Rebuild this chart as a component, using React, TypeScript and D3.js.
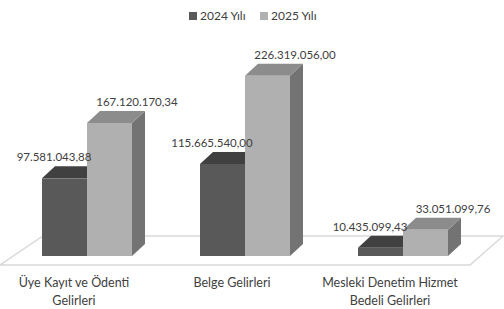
import React from "react";
import * as d3 from "d3";

const categories = [
  ["Üye Kayıt ve Ödenti", "Gelirleri"],
  ["Belge Gelirleri"],
  ["Mesleki Denetim Hizmet", "Bedeli Gelirleri"],
];
const seriesNames = ["2024 Yılı", "2025 Yılı"];
const values2024 = [97581043.88, 115665540.0, 10435099.43];
const values2025 = [167120170.34, 226319056.0, 33051099.76];
const seriesValues = [values2024, values2025];

const W = 504;
const H = 309;
const FONT = "Lato, 'Open Sans', sans-serif";

// front / top / side shades per series
const shades = [
  { front: "#595959", top: "#404040", side: "#3d3d3d", legend: "#595959" },
  { front: "#b0b0b0", top: "#8c8c8c", side: "#737373", legend: "#b0b0b0" },
];

const fmt = (v: number) => {
  const [i, d] = v.toFixed(2).split(".");
  return i.replace(/\B(?=(\d{3})+(?!\d))/g, ".") + "," + d;
};

export default function App() {
  const keys = categories.map((c) => c.join(" "));
  const x0 = d3.scaleBand<string>().domain(keys).range([8, 482]);
  const groupW = 90;
  const x1 = d3.scaleBand<string>().domain(seriesNames).range([0, groupW]);
  const y = d3.scaleLinear().domain([0, 250e6]).range([256, 57]);

  const ddx = 13; // bar depth
  const ddy = -12;
  const floorFront = 265;
  const floorBack = 236;

  const floor = [
    [0, floorFront],
    [43, floorBack],
    [W - 1, floorBack],
    [470, floorFront],
  ];

  const bars = seriesNames.flatMap((s, si) =>
    keys.map((k, ci) => {
      const v = seriesValues[si][ci];
      const bx = (x0(k) ?? 0) + (x0.bandwidth() - groupW) / 2 + (x1(s) ?? 0);
      return { si, ci, v, bx, bw: x1.bandwidth(), top: y(v), base: y(0) };
    })
  );

  const labelDx = [12, 50];
  // category labels sit on the projected front edge, a bit left of the bars
  const catX = (i: number) => (x0(keys[i]) ?? 0) + x0.bandwidth() / 2 - 13;

  return (
    <svg width={W} height={H} style={{ position: "absolute", left: 0, top: 0 }}>
      <rect width={W} height={H} fill="#fff" />
      {/* legend */}
      <g fontFamily={FONT} fontSize={12} fill="#404040">
        {seriesNames.map((s, i) => (
          <g key={s} transform={`translate(${189 + i * 71},0)`}>
            <rect x={0} y={12} width={8} height={8} fill={shades[i].legend} />
            <text x={11} y={20}>{s}</text>
          </g>
        ))}
      </g>
      {/* floor */}
      <polygon
        points={floor.map((p) => p.join(",")).join(" ")}
        fill="#fff"
        stroke="#d9d9d9"
        strokeWidth={1.5}
      />
      {/* bars */}
      {bars.map((b) => {
        const { bx, bw, top, base } = b;
        const c = shades[b.si];
        return (
          <g key={`${b.si}-${b.ci}`}>
            <polygon
              points={`${bx + bw},${top} ${bx + bw + ddx},${top + ddy} ${bx + bw + ddx},${base + ddy} ${bx + bw},${base}`}
              fill={c.side}
            />
            <polygon
              points={`${bx},${top} ${bx + ddx},${top + ddy} ${bx + bw + ddx},${top + ddy} ${bx + bw},${top}`}
              fill={c.top}
            />
            <rect x={bx} y={top} width={bw} height={base - top} fill={c.front} />
          </g>
        );
      })}
      {/* value labels */}
      <g fontFamily={FONT} fontSize={11.5} fill="#404040" textAnchor="middle">
        {bars.map((b) => (
          <text key={`l${b.si}-${b.ci}`} x={b.bx + labelDx[b.si]} y={b.top + ddy - 5}>
            {fmt(b.v)}
          </text>
        ))}
      </g>
      {/* category labels */}
      <g fontFamily={FONT} fontSize={12.5} fill="#404040" textAnchor="middle">
        {categories.map((lines, i) => (
          <text key={i} x={catX(i)} y={287}>
            {lines.map((l, j) => (
              <tspan key={j} x={catX(i)} dy={j === 0 ? 0 : 18}>
                {l}
              </tspan>
            ))}
          </text>
        ))}
      </g>
    </svg>
  );
}
